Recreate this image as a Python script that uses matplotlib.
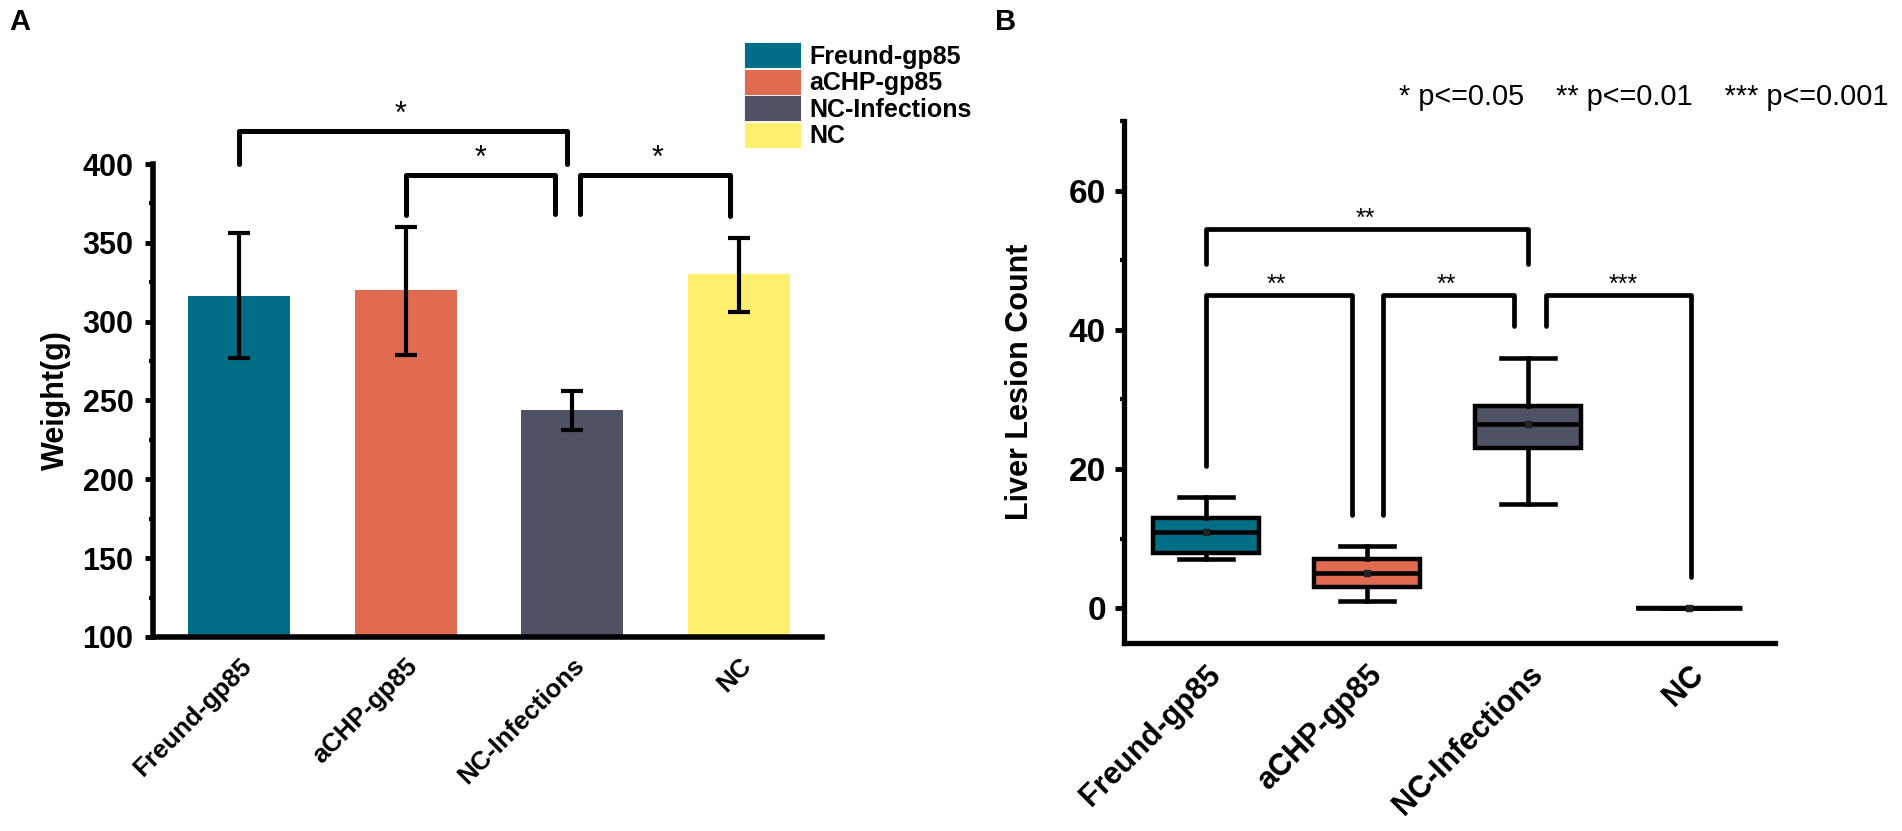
import matplotlib
matplotlib.use("Agg")
import matplotlib.pyplot as plt
from matplotlib import font_manager
from matplotlib.patches import Patch
from matplotlib.ticker import MultipleLocator, FixedLocator

plt.rcParams["font.family"] = ["Liberation Sans", "DejaVu Sans"]

# narrow face for the right panel's tick numbers, if the system has one
installed = {f.name for f in font_manager.fontManager.ttflist}
if "Liberation Sans Narrow" in installed:
    narrow_family, narrow_size = ["Liberation Sans Narrow", "DejaVu Sans"], 26
else:
    narrow_family, narrow_size = ["Liberation Sans", "DejaVu Sans"], 24

# -------------------------------
# data
# -------------------------------
groups = ["Freund-gp85", "aCHP-gp85", "NC-Infections", "NC"]
colors = ["#006E87", "#E06B50", "#4F5264", "#FFEF6E"]

# panel A: body weight (mean with error range)
weight_mean = [316, 320, 244, 330]
weight_low = [277, 279, 231, 306]
weight_high = [356, 360, 256, 353]

# panel B: liver lesion count box statistics
lesion_whislo = [7, 1, 15, 0]
lesion_q1 = [8, 3, 23, 0]
lesion_med = [11, 5, 26.5, 0]
lesion_q3 = [13, 7, 29, 0]
lesion_whishi = [16, 9, 36, 0]
lesion_mean = [11, 5, 26.4, 0]

# significance brackets: (x1, x2, top, leg1 end, leg2 end, label, label x)
brackets_a = [
    (0.0, 1.97, 421, 400, 400, "*", 0.97),
    (1.0, 1.90, 393, 367.5, 368.5, "*", 1.45),
    (2.05, 2.95, 393, 368.5, 367, "*", 2.51),
]
brackets_b = [
    (0.0, 2.0, 54.5, 49.5, 49.5, "**", 0.99),
    (0.0, 0.91, 45, 20.5, 13.4, "**", 0.44),
    (1.10, 1.91, 45, 13.4, 40.5, "**", 1.49),
    (2.11, 3.01, 45, 40.5, 4.5, "***", 2.59),
]

W, H = 1902, 831
fig = plt.figure(figsize=(W / 100, H / 100), dpi=100)

# -------------------------------
# panel A: bar chart
# -------------------------------
ax_a = fig.add_axes([153 / W, 1 - 637 / H, 669 / W, 473 / H])
x = list(range(len(groups)))
ax_a.bar(x, [m - 100 for m in weight_mean], bottom=100, width=0.613,
         color=colors, zorder=1)
yerr = [[m - lo for m, lo in zip(weight_mean, weight_low)],
        [hi - m for m, hi in zip(weight_mean, weight_high)]]
ax_a.errorbar(x, weight_mean, yerr=yerr, fmt="none", ecolor="black",
              elinewidth=3, capsize=7.6, capthick=3, zorder=3)

ax_a.set_xlim(-0.5165, 3.50)
ax_a.set_ylim(100, 400)
ax_a.yaxis.set_major_locator(MultipleLocator(50))
ax_a.yaxis.set_minor_locator(MultipleLocator(25))
ax_a.set_xticks(x)
ax_a.set_xticklabels(groups, rotation=45, ha="right", va="top",
                     rotation_mode="anchor", fontsize=18.5, fontweight="bold")
ax_a.tick_params(axis="x", length=0, pad=12)
ax_a.tick_params(axis="y", which="major", length=6, width=3.5, pad=8,
                 labelsize=22)
ax_a.tick_params(axis="y", which="minor", length=3, width=3)
for lab in ax_a.get_yticklabels():
    lab.set_fontweight("bold")
for s in ["top", "right"]:
    ax_a.spines[s].set_visible(False)
for s in ["left", "bottom"]:
    ax_a.spines[s].set_linewidth(4)
ax_a.set_ylabel("Weight(g)", fontsize=22, fontweight="bold")
ax_a.yaxis.set_label_coords(-0.1226, 0.5)

for x1, x2, top, l1, l2, lab, lx in brackets_a:
    ax_a.plot([x1, x1, x2, x2], [l1, top, top, l2], color="black", lw=3.6,
              clip_on=False, solid_capstyle="round", zorder=4)
    ax_a.text(lx, top + 5, lab, ha="center", va="baseline", fontsize=22,
              clip_on=False)

handles = [Patch(facecolor=c, edgecolor="white", linewidth=0.6) for c in colors]
ax_a.legend(handles, groups, loc="upper left",
            bbox_to_anchor=(744 / W, 1 - 42 / H), bbox_transform=fig.transFigure,
            frameon=False, borderpad=0, borderaxespad=0, labelspacing=0,
            handlelength=2.28, handleheight=1.24, handletextpad=0.32,
            prop={"weight": "bold", "size": 18})

# -------------------------------
# panel B: box plot
# -------------------------------
ax_b = fig.add_axes([1124 / W, 1 - 643 / H, 651 / W, 522 / H])
stats = []
for i, g in enumerate(groups):
    stats.append(dict(label=g, whislo=lesion_whislo[i], q1=lesion_q1[i],
                      med=lesion_med[i], q3=lesion_q3[i],
                      whishi=lesion_whishi[i], mean=lesion_mean[i]))
bp = ax_b.bxp(stats, positions=x, widths=0.66, capwidths=0.34,
              patch_artist=True, showmeans=True, showfliers=False,
              boxprops=dict(linewidth=3.2, edgecolor="black"),
              whiskerprops=dict(linewidth=3.3, color="black"),
              capprops=dict(linewidth=3.3, color="black"),
              medianprops=dict(linewidth=3.3, color="black"),
              meanprops=dict(marker="s", markersize=4, markerfacecolor="#222222",
                             markeredgecolor="#222222"))
for box, c in zip(bp["boxes"], colors):
    box.set_facecolor(c)

ax_b.set_xlim(-0.509, 3.534)
ax_b.set_ylim(-5, 70)
ax_b.yaxis.set_major_locator(FixedLocator([0, 20, 40, 60]))
ax_b.yaxis.set_minor_locator(FixedLocator([10, 30, 50, 70]))
ax_b.set_xticks(x)
ax_b.set_xticklabels(groups, rotation=45, ha="right", va="top",
                     rotation_mode="anchor", fontsize=22, fontweight="bold")
ax_b.tick_params(axis="x", length=0, pad=12)
ax_b.tick_params(axis="y", which="major", length=6.5, width=3.5, pad=6.5)
ax_b.tick_params(axis="y", which="minor", length=3, width=3)
for lab in ax_b.get_yticklabels():
    lab.set_family(narrow_family)
    lab.set_fontsize(narrow_size)
    lab.set_fontweight("bold")
for s in ["top", "right"]:
    ax_b.spines[s].set_visible(False)
for s in ["left", "bottom"]:
    ax_b.spines[s].set_linewidth(3.8)
ax_b.set_ylabel("Liver Lesion Count", fontsize=22, fontweight="bold")
ax_b.yaxis.set_label_coords(-0.1367, 0.5)

for x1, x2, top, l1, l2, lab, lx in brackets_b:
    ax_b.plot([x1, x1, x2, x2], [l1, top, top, l2], color="black", lw=3.4,
              clip_on=False, solid_capstyle="round", zorder=4)
    ax_b.text(lx, top + 0.5, lab, ha="center", va="baseline", fontsize=18,
              clip_on=False)

fig.text(1399 / W, 1 - 97 / H, "* p<=0.05    ** p<=0.01    *** p<=0.001",
         ha="left", va="center", fontsize=20.8)

# panel letters
fig.text(9 / W, 1 - 22 / H, "A", ha="left", va="center", fontsize=21,
         fontweight="bold")
fig.text(995 / W, 1 - 22 / H, "B", ha="left", va="center", fontsize=21,
         fontweight="bold")

fig.savefig("out.png", dpi=100)
